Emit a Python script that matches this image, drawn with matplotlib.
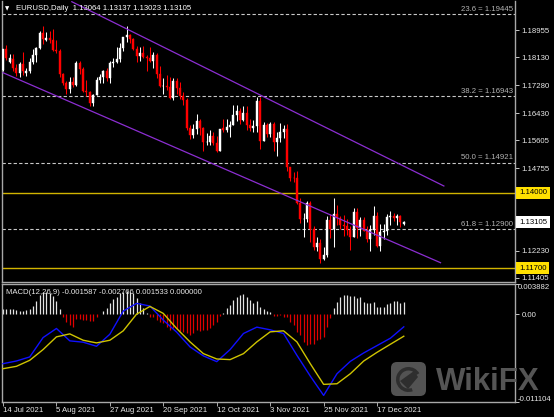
import numpy as np
import matplotlib
matplotlib.use("Agg")
import matplotlib.pyplot as plt
import matplotlib.transforms as mtransforms
from matplotlib.patches import FancyBboxPatch, Wedge, Polygon

plt.rcParams['font.family'] = ['Liberation Sans', 'DejaVu Sans']

# EURUSD daily bars, 14 Jul 2021 .. 29 Dec 2021
opens = [1.1776, 1.1838, 1.1800, 1.1808, 1.1780, 1.1766, 1.1792, 1.1765, 1.1771, 1.1800,
         1.1820, 1.1843, 1.1888, 1.1866, 1.1873, 1.1866, 1.1835, 1.1832, 1.1762, 1.1736,
         1.1718, 1.1739, 1.1730, 1.1796, 1.1779, 1.1711, 1.1708, 1.1674, 1.1698, 1.1745,
         1.1754, 1.1772, 1.1751, 1.1795, 1.1798, 1.1808, 1.1843, 1.1875, 1.1880, 1.1869,
         1.1838, 1.1818, 1.1825, 1.1814, 1.1810, 1.1803, 1.1819, 1.1763, 1.1726, 1.1727,
         1.1723, 1.1690, 1.1740, 1.1719, 1.1696, 1.1683, 1.1597, 1.1578, 1.1596, 1.1620,
         1.1597, 1.1554, 1.1555, 1.1572, 1.1552, 1.1528, 1.1598, 1.1593, 1.1600, 1.1608,
         1.1636, 1.1651, 1.1623, 1.1643, 1.1608, 1.1597, 1.1605, 1.1680, 1.1558, 1.1607,
         1.1579, 1.1610, 1.1555, 1.1567, 1.1587, 1.1595, 1.1478, 1.1446, 1.1445, 1.1368,
         1.1319, 1.1320, 1.1370, 1.1290, 1.1236, 1.1248, 1.1198, 1.1210, 1.1318, 1.1290,
         1.1337, 1.1322, 1.1303, 1.1298, 1.1288, 1.1266, 1.1342, 1.1292, 1.1316, 1.1285,
         1.1259, 1.1288, 1.1331, 1.1239, 1.1280, 1.1283, 1.1327, 1.1329, 1.1323, 1.1329,
         1.13064]
highs = [1.1838, 1.1850, 1.1822, 1.1822, 1.1792, 1.1800, 1.1829, 1.1782, 1.1810, 1.1840,
         1.1845, 1.1893, 1.1909, 1.1890, 1.1893, 1.1900, 1.1865, 1.1839, 1.1767, 1.1742,
         1.1753, 1.1754, 1.1803, 1.1802, 1.1783, 1.1745, 1.1712, 1.1703, 1.1752, 1.1763,
         1.1775, 1.1781, 1.1802, 1.1810, 1.1846, 1.1857, 1.1876, 1.1909, 1.1885, 1.1872,
         1.1847, 1.1845, 1.1848, 1.1819, 1.1845, 1.1830, 1.1827, 1.1786, 1.1750, 1.1760,
         1.1752, 1.1751, 1.1750, 1.1737, 1.1708, 1.1689, 1.1606, 1.1610, 1.1640, 1.1626,
         1.1602, 1.1583, 1.1593, 1.1587, 1.1572, 1.1596, 1.1625, 1.1624, 1.1620, 1.1668,
         1.1667, 1.1658, 1.1665, 1.1665, 1.1625, 1.1621, 1.1692, 1.1692, 1.1616, 1.1613,
         1.1616, 1.1616, 1.1585, 1.1613, 1.1608, 1.1609, 1.1480, 1.1464, 1.1467, 1.1385,
         1.1340, 1.1374, 1.1375, 1.1299, 1.1266, 1.1258, 1.1234, 1.1330, 1.1337, 1.1383,
         1.1363, 1.1331, 1.1334, 1.1319, 1.1300, 1.1355, 1.1354, 1.1325, 1.1325, 1.1300,
         1.1303, 1.1360, 1.1341, 1.1306, 1.1304, 1.1335, 1.1345, 1.1338, 1.1335, 1.1332,
         1.13137]
lows = [1.1772, 1.1806, 1.1795, 1.1771, 1.1756, 1.1752, 1.1760, 1.1755, 1.1765, 1.1793,
        1.1800, 1.1838, 1.1855, 1.1862, 1.1858, 1.1832, 1.1827, 1.1754, 1.1730, 1.1700,
        1.1705, 1.1724, 1.1726, 1.1762, 1.1708, 1.1695, 1.1666, 1.1664, 1.1698, 1.1734,
        1.1735, 1.1742, 1.1735, 1.1785, 1.1796, 1.1800, 1.1834, 1.1859, 1.1858, 1.1836,
        1.1800, 1.1802, 1.1810, 1.1771, 1.1799, 1.1782, 1.1751, 1.1723, 1.1700, 1.1713,
        1.1685, 1.1684, 1.1701, 1.1686, 1.1668, 1.1591, 1.1563, 1.1567, 1.1580, 1.1578,
        1.1529, 1.1546, 1.1545, 1.1545, 1.1524, 1.1528, 1.1585, 1.1587, 1.1571, 1.1607,
        1.1620, 1.1610, 1.1618, 1.1592, 1.1588, 1.1585, 1.1585, 1.1535, 1.1558, 1.1571,
        1.1571, 1.1529, 1.1513, 1.1555, 1.1568, 1.1468, 1.1436, 1.1432, 1.1365, 1.1309,
        1.1264, 1.1310, 1.1250, 1.1226, 1.1224, 1.1186, 1.1195, 1.1204, 1.1263, 1.1234,
        1.1303, 1.1290, 1.1270, 1.1272, 1.1227, 1.1264, 1.1263, 1.1268, 1.1283, 1.1251,
        1.1222, 1.1273, 1.1234, 1.1222, 1.1260, 1.1272, 1.1303, 1.1313, 1.1302, 1.1297,
        1.13023]
closes = [1.1838, 1.1812, 1.1810, 1.1780, 1.1766, 1.1792, 1.1771, 1.1772, 1.1800, 1.1820,
          1.1843, 1.1888, 1.1870, 1.1872, 1.1866, 1.1835, 1.1832, 1.1762, 1.1736, 1.1718,
          1.1739, 1.1730, 1.1796, 1.1779, 1.1711, 1.1708, 1.1674, 1.1698, 1.1745, 1.1754,
          1.1772, 1.1751, 1.1795, 1.1798, 1.1808, 1.1843, 1.1875, 1.1880, 1.1869, 1.1838,
          1.1818, 1.1825, 1.1814, 1.1810, 1.1803, 1.1819, 1.1763, 1.1726, 1.1727, 1.1723,
          1.1690, 1.1740, 1.1719, 1.1696, 1.1683, 1.1597, 1.1578, 1.1596, 1.1620, 1.1597,
          1.1554, 1.1555, 1.1572, 1.1552, 1.1528, 1.1594, 1.1593, 1.1600, 1.1608, 1.1636,
          1.1651, 1.1623, 1.1643, 1.1608, 1.1597, 1.1605, 1.1680, 1.1558, 1.1607, 1.1579,
          1.1610, 1.1555, 1.1567, 1.1587, 1.1595, 1.1478, 1.1446, 1.1445, 1.1368, 1.1319,
          1.1320, 1.1370, 1.1290, 1.1236, 1.1248, 1.1198, 1.1210, 1.1318, 1.1290, 1.1337,
          1.1322, 1.1303, 1.1298, 1.1288, 1.1266, 1.1342, 1.1292, 1.1316, 1.1285, 1.1259,
          1.1288, 1.1331, 1.1239, 1.1280, 1.1283, 1.1327, 1.1329, 1.1323, 1.1329, 1.1310,
          1.13105]

# MACD(12,26,9) panel
hist = [0.00064, 0.00064, 0.00064, 0.00064, 0.00056, 0.00047, 0.00043, 0.00056, 0.00064, 0.00107,
        0.00175, 0.00248, 0.00282, 0.00290, 0.00269, 0.00235, 0.00175, 0.00064, -0.00030, -0.00094,
        -0.00137, -0.00158, -0.00064, -0.00064, -0.00073, -0.00073, -0.00081, -0.00081, -0.00030, 0.00004,
        0.00047, 0.00077, 0.00141, 0.00192, 0.00226, 0.00269, 0.00282, 0.00303, 0.00290, 0.00269,
        0.00205, 0.00149, 0.00077, 0.00021, -0.00030, -0.00038, -0.00073, -0.00094, -0.00115, -0.00158,
        -0.00201, -0.00179, -0.00192, -0.00209, -0.00222, -0.00243, -0.00265, -0.00235, -0.00201, -0.00209,
        -0.00201, -0.00201, -0.00179, -0.00137, -0.00094, -0.00021, 0.00021, 0.00077, 0.00120, 0.00184,
        0.00226, 0.00248, 0.00256, 0.00226, 0.00184, 0.00141, 0.00175, 0.00098, 0.00064, 0.00047,
        0.00034, -0.00017, -0.00017, -0.00009, -0.00030, -0.00038, -0.00094, -0.00137, -0.00222, -0.00265,
        -0.00350, -0.00393, -0.00371, -0.00371, -0.00329, -0.00307, -0.00286, -0.00158, -0.00051, 0.00077,
        0.00162, 0.00226, 0.00248, 0.00248, 0.00235, 0.00235, 0.00205, 0.00218, 0.00162, 0.00141,
        0.00141, 0.00162, 0.00098, 0.00090, 0.00098, 0.00132, 0.00149, 0.00175, 0.00171, 0.00149,
        0.00153]
line_bars = [0, 4, 8, 12, 16, 20, 24, 28, 32, 36, 40, 44, 48, 52, 56, 60,
             64, 68, 72, 76, 80, 84, 88, 92, 96, 100, 104, 108, 112, 116, 120]
macd_main = [-0.00628, -0.00594, -0.00542, -0.00295, -0.00179, -0.00337, -0.00354, -0.00406,
             -0.00252, 0.00043, 0.00141, 0.00107, -0.00073, -0.00226, -0.00414, -0.00529,
             -0.00602, -0.00448, -0.00243, -0.00162, -0.00196, -0.00243, -0.00521, -0.00786,
             -0.01033, -0.00756, -0.00598, -0.00491, -0.00397, -0.00303, -0.00158]
macd_signal = [-0.00692, -0.00662, -0.00585, -0.00448, -0.00286, -0.00248, -0.00329, -0.00363,
               -0.00329, -0.00209, 0.00004, 0.00102, 0.00013, -0.00179, -0.00350, -0.00500,
               -0.00568, -0.00576, -0.00500, -0.00350, -0.00222, -0.00209, -0.00350, -0.00628,
               -0.00892, -0.00884, -0.00756, -0.00594, -0.00483, -0.00380, -0.00278]

date_bars = [0, 16, 32, 48, 64, 80, 96, 112]
date_labels = ['14 Jul 2021', '5 Aug 2021', '27 Aug 2021', '20 Sep 2021',
               '12 Oct 2021', '3 Nov 2021', '25 Nov 2021', '17 Dec 2021']
price_ticks = [1.18955, 1.18130, 1.17280, 1.16430, 1.15605, 1.14755,
               1.12230, 1.11405]
fib_levels = [1.19445, 1.16943, 1.14921, 1.12900]
fib_names = ['23.6', '38.2', '50.0', '61.8']
support_levels = [1.14000, 1.11700]
upper_trend_bars, upper_trend_prices = [20.6, 132.0], [1.19829, 1.14210]
lower_trend_bars, lower_trend_prices = [0.0, 131.0], [1.17664, 1.11871]
last_price = 1.13105

W, H = 554, 417
FS = 5.6
fig = plt.figure(figsize=(W / 100, H / 100), dpi=100, facecolor='black')

def fx(px):
    return px / W

def fy(py):
    return 1 - py / H

ax = fig.add_axes([fx(2), fy(282), fx(515) - fx(2), fy(1) - fy(282)], facecolor='black')
mx = fig.add_axes([fx(2), fy(401.5), fx(515) - fx(2), fy(284) - fy(401.5)], facecolor='black')

xlim = (-0.3, 153.3)
frame = '#a8a8a8'
for a in (ax, mx):
    a.set_xlim(*xlim)
    for s in a.spines.values():
        s.set_color(frame)
        s.set_linewidth(1.0)
    a.yaxis.tick_right()
    a.tick_params(axis='y', colors='#e8e8e8', labelsize=FS, length=3, width=0.6, pad=1.5)
ax.spines['top'].set_visible(False)

ax.set_ylim(1.112828, 1.198505)
mx.set_ylim(-0.011104, 0.003882)

# candles
o = np.array(opens); h = np.array(highs); l = np.array(lows); c = np.array(closes)
x = np.arange(len(c))
up = c >= o
cols = np.where(up, '#ffffff', '#ff0000')
ax.vlines(x, l, h, colors=cols, lw=0.75, zorder=3)
body = np.maximum(np.abs(c - o), 0.00008)
ax.bar(x, body, bottom=np.minimum(o, c), width=0.6, color=cols, edgecolor=cols,
       linewidth=0.3, zorder=4)

# fibo levels
for lev, name in zip(fib_levels, fib_names):
    ax.axhline(lev, color='#c8c8c8', lw=0.8, ls=(0, (3, 2)), zorder=2)
    ax.text(0.997, lev + 0.0004, f'{name} = {lev:.5f}', transform=ax.get_yaxis_transform(),
            ha='right', va='bottom', fontsize=FS, color='#b4b4b4', zorder=5)

# support lines
for lev in support_levels:
    ax.axhline(lev, color='#d2b400', lw=1.0, zorder=2)

# channel lines
for bx, py in ((upper_trend_bars, upper_trend_prices), (lower_trend_bars, lower_trend_prices)):
    ax.plot(bx, py, color='#8c2ed2', lw=0.9, zorder=5)

ax.set_yticks(price_ticks)
ax.set_yticklabels([f'{p:.5f}' for p in price_ticks])
ax.set_xticks([])

# highlighted price boxes on the axis
bt = mtransforms.blended_transform_factory(fig.transFigure, ax.transData)
for lev, fc in ((1.14000, '#ffe000'), (last_price, '#ffffff'), (1.11700, '#ffe000')):
    ax.text(fx(519), lev, f'{lev:.5f}', transform=bt, ha='left', va='center', fontsize=FS,
            color='black', zorder=10, clip_on=False,
            bbox=dict(boxstyle='square,pad=0.33', fc=fc, ec='none'))

# title
fig.text(fx(5), fy(8.5), '\u25bc', fontsize=4, color='white', va='center',
         family='DejaVu Sans')
fig.text(fx(16), fy(8.5), 'EURUSD,Daily  1.13064 1.13137 1.13023 1.13105',
         fontsize=FS, color='white', va='center')

# MACD panel
hx = np.arange(len(hist))
hv = np.array(hist)
mx.vlines(hx, 0, hv, colors=np.where(hv >= 0, '#e4e4e4', '#e00000'), lw=0.9, zorder=2)
mx.plot(line_bars, macd_main, color='#1010ff', lw=1.0, zorder=3)
mx.plot(line_bars, macd_signal, color='#cfc400', lw=1.0, zorder=3)
mx.set_yticks([0.003882, 0.0, -0.011104])
mx.set_yticklabels(['', '0.00', ''])
mtr = mtransforms.blended_transform_factory(fig.transFigure, mx.transAxes)
mx.text(fx(518), 1.0, '0.003882', transform=mtr, ha='left', va='top', fontsize=FS,
        color='#e8e8e8', clip_on=False)
mx.text(fx(518), -0.01, '-0.011104', transform=mtr, ha='left', va='bottom', fontsize=FS,
        color='#e8e8e8', clip_on=False)
mx.text(0.008, 0.955, 'MACD(12,26,9) -0.001587 -0.002766 0.001533 0.000000',
        transform=mx.transAxes, ha='left', va='top', fontsize=FS, color='#e8e8e8')

mx.set_xticks(date_bars)
mx.tick_params(axis='x', colors='#c8c8c8', length=3, width=0.6, labelbottom=False)
dt = mtransforms.blended_transform_factory(mx.transData, fig.transFigure)
for b, lab in zip(date_bars, date_labels):
    mx.text(b, fy(410), lab, transform=dt, ha='left', va='center', fontsize=FS,
            color='#e8e8e8', clip_on=False)

# WikiFX watermark
ov = fig.add_axes([0, 0, 1, 1], facecolor='none')
ov.set_xlim(0, W); ov.set_ylim(H, 0); ov.axis('off')
ov.add_patch(FancyBboxPatch((391, 362), 35, 34, boxstyle='round,pad=0,rounding_size=6',
                            fc='#585858', ec='none', alpha=0.95))
ov.add_patch(Wedge((408.5, 379.5), 12.5, 70, 330, width=3.5, fc='#2e2e2e', ec='none'))
ov.add_patch(Polygon([[400, 381], [414, 371], [418, 377], [408, 389]], closed=True,
                     fc='#2e2e2e', ec='none'))
ov.text(436, 390, 'WikiFX', fontsize=22.5, fontweight='bold', color='#5a5a5a',
        ha='left', va='baseline', alpha=0.95)

fig.savefig('out.png', dpi=100, facecolor='black')
